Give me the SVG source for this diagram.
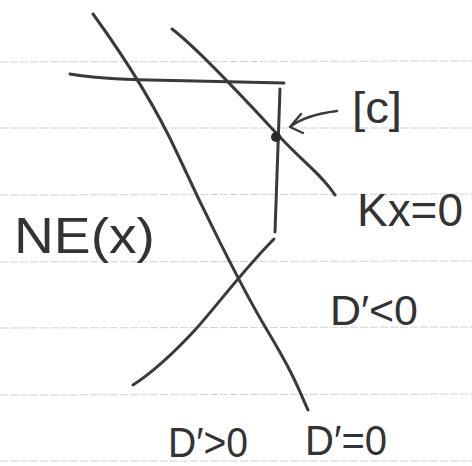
<svg xmlns="http://www.w3.org/2000/svg" width="472" height="466" viewBox="0 0 472 466">
<style>
.rule{stroke:#d2d2d2;stroke-width:1;stroke-dasharray:8 2}
.ink{fill:none;stroke:#3a3a3a;stroke-width:3;stroke-linecap:round;stroke-linejoin:round}
.thin{fill:none;stroke:#3a3a3a;stroke-width:2.4;stroke-linecap:round;stroke-linejoin:round}
.lbl{font-family:"Liberation Sans",Arial,sans-serif;fill:#333}
</style>
<rect width="472" height="466" fill="#fff"/>
<g id="paper">
<line class="rule" x1="0" y1="62" x2="472" y2="61"/>
<line class="rule" x1="0" y1="128" x2="472" y2="128"/>
<line class="rule" x1="0" y1="195" x2="472" y2="194"/>
<line class="rule" x1="0" y1="262" x2="472" y2="261"/>
<line class="rule" x1="0" y1="328" x2="472" y2="327"/>
<line class="rule" x1="0" y1="395" x2="472" y2="394"/>
<line class="rule" x1="0" y1="461" x2="472" y2="461"/>
</g>
<g id="connectors">
<path id="curve-d0" class="ink" d="M93,14 C125,58 155,105 178,155 S240,285 267,330 S298,388 308,410"/>
<path id="curve-kx" class="ink" d="M172,29 C200,50 250,105 278,135 S322,175 335,195"/>
<path id="hline" class="ink" d="M70,74 Q100,79 150,80 L284,83"/>
<path id="vline" class="ink" d="M280,89 L275,232"/>
<path id="curve-low" class="ink" d="M274,239 C245,268 215,308 195,330 C170,357 150,374 133,385"/>
<path id="arrow" class="thin" d="M337,111 Q305,115 290,127 M301,114 L290,127 L303,133"/>
</g>
<g id="point-c"><circle cx="276" cy="137" r="5" fill="#2a2a2a"/></g>
<g id="labels">
<text class="lbl" x="352" y="123" font-size="44" textLength="50" lengthAdjust="spacingAndGlyphs">[c]</text>
<text class="lbl" x="357" y="226" font-size="46" textLength="106" lengthAdjust="spacingAndGlyphs">Kx=0</text>
<text class="lbl" x="14" y="253" font-size="50" textLength="141" lengthAdjust="spacingAndGlyphs">NE(x)</text>
<text class="lbl" x="330" y="325" font-size="42" textLength="88" lengthAdjust="spacingAndGlyphs">D′&lt;0</text>
<text class="lbl" x="168" y="457" font-size="42" textLength="80" lengthAdjust="spacingAndGlyphs">D′&gt;0</text>
<text class="lbl" x="305" y="455" font-size="42" textLength="82" lengthAdjust="spacingAndGlyphs">D′=0</text>
</g>
</svg>
